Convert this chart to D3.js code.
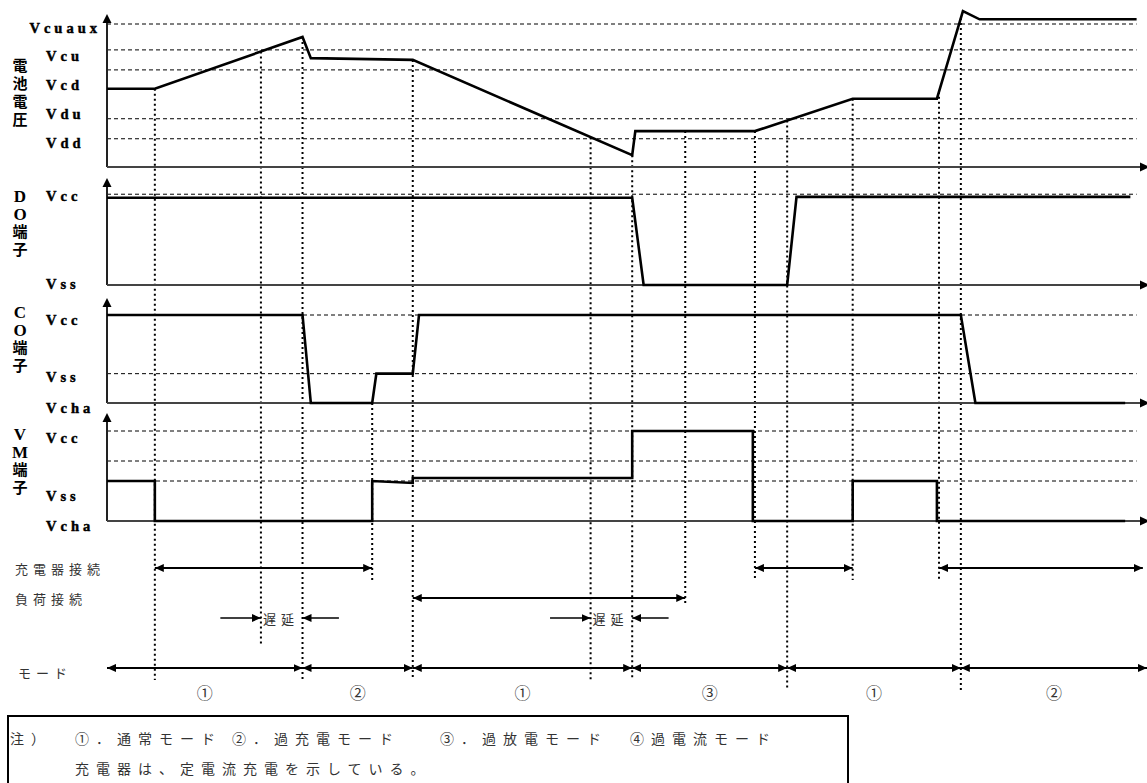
<!DOCTYPE html>
<html>
<head>
<meta charset="utf-8">
<script src="https://cdn.jsdelivr.net/npm/d3@7"></script>
<style>
  html, body { margin: 0; padding: 0; background: #fff; overflow: hidden; }
  svg { display: block; }
</style>
</head>
<body>
<svg id="chart" width="1147" height="783"></svg>
<script>
// ---- time base (arbitrary units, 0..100) ----

// Battery voltage (V)
const batteryT = [0, 4.6, 18.8, 19.6, 29.4, 50.5, 50.8, 62.3, 71.7, 79.8, 82.3, 83.9, 99.0];
const batteryV = [3.33, 3.33, 4.21, 3.85, 3.82, 2.20, 2.61, 2.61, 3.16, 3.16, 4.65, 4.51, 4.51];
const batteryLevelNames = ['Vcuaux', 'Vcu', 'Vcd', 'Vdu', 'Vdd'];
const batteryLevels = [4.43, 3.99, 3.65, 2.82, 2.48];

// DO pin (Vss = 0, Vcc = 1)
const doT = [0, 50.5, 51.6, 65.4, 66.3, 98.4];
const doV = [0.98, 0.98, 0, 0, 0.99, 0.99];
const doLevelNames = ['Vcc', 'Vss'];
const doLevels = [1.02];
const doLabelAt = [1.01, 0.02];

// CO pin (Vcha = 0, Vss = 1, Vcc = 3)
const coT = [0, 18.8, 19.6, 25.5, 25.9, 29.4, 30.0, 82.1, 83.5, 97.9];
const coV = [3, 3, 0, 0, 1, 1, 3, 3, 0, 0];
const coLevelNames = ['Vcc', 'Vss', 'Vcha'];
const coLevels = [3, 1];
const coLabelAt = [2.86, 0.89, -0.14];

// VM pin (Vcha = 0, Vss = 1, Vcc = 2.25)
const vmT = [0, 4.6, 4.6, 25.5, 25.5, 29.4, 29.4, 50.5, 50.5, 62.1, 62.1, 71.7, 71.7, 79.8, 79.8, 97.9];
const vmV = [1, 1, 0, 0, 1, 0.95, 1.075, 1.075, 2.25, 2.25, 0, 0, 1, 1, 0, 0];
const vmLevelNames = ['Vcc', 'Vss', 'Vcha'];
const vmLevels = [2.25, 1.5, 1];
const vmLabelAt = [2.1, 0.63, -0.1];

// Event markers (dotted verticals)
const markerT    = [4.6, 14.8, 18.8, 25.5, 29.4, 46.5, 50.5, 55.6, 62.3, 65.4, 71.7, 80.0, 82.1];
const markerFrom = ['bat', 'bat', 'bat', 'co', 'bat', 'bat', 'bat', 'bat', 'bat', 'bat', 'bat', 'bat', 'bat'];
const markerTo   = ['mode', 'delay', 'mode', 'charger', 'mode', 'mode', 'mode', 'load', 'charger', 'below', 'charger', 'charger', 'below'];

// Connection / delay / mode spans
const chargerSpans = [[4.6, 25.5], [62.3, 71.7], [80.0, 99.6]];
const loadSpans = [[29.4, 55.6]];
const delaySpans = [[14.8, 18.8], [46.5, 50.5]];
const modeBounds = [0, 18.8, 29.4, 50.5, 65.4, 82.1, 100];
const modeLabels = ['①', '②', '①', '③', '①', '②'];

// Notes
const noteHead = '注）';
const noteItems = ['①．通常モード', '②．過充電モード', '③．過放電モード', '④過電流モード'];
const noteLine2 = '充電器は、定電流充電を示している。';

// ---- drawing ----
const svg = d3.select('#chart');
const x = d3.scaleLinear().domain([0, 100]).range([107, 1147]);

const panels = [
  { key: 'bat', top: 14,  base: 167, title: '電池電圧', titleY: 66,
    y: d3.scaleLinear().domain([2.0, 4.6]).range([167, 14]),
    T: batteryT, V: batteryV, levels: batteryLevels },
  { key: 'do',  top: 178, base: 285, title: 'DO端子', titleY: 196,
    y: d3.scaleLinear().domain([0, 1]).range([285, 196]),
    T: doT, V: doV, levels: doLevels, names: doLevelNames, labelAt: doLabelAt },
  { key: 'co',  top: 298, base: 403, title: 'CO端子', titleY: 312,
    y: d3.scaleLinear().domain([0, 3]).range([403, 315]),
    T: coT, V: coV, levels: coLevels, names: coLevelNames, labelAt: coLabelAt },
  { key: 'vm',  top: 413, base: 521, title: 'VM端子', titleY: 434,
    y: d3.scaleLinear().domain([0, 2.25]).range([521, 431]),
    T: vmT, V: vmV, levels: vmLevels, names: vmLevelNames, labelAt: vmLabelAt }
];
const panelBy = Object.fromEntries(panels.map(p => [p.key, p]));

const rowY = { charger: 568, load: 598, delay: 618, mode: 668 };
const markerStop = { charger: 580, load: 605, delay: 645, mode: 680, below: 690 };

const defs = svg.append('defs');
defs.append('marker')
  .attr('id', 'head')
  .attr('viewBox', '0 -5 10 10')
  .attr('refX', 10).attr('refY', 0)
  .attr('markerWidth', 9).attr('markerHeight', 9)
  .attr('markerUnits', 'userSpaceOnUse')
  .attr('orient', 'auto-start-reverse')
  .append('path')
  .attr('d', 'M0,-4.5L10,0L0,4.5Z')
  .attr('fill', '#000');

function valueAt(T, V, t) {
  for (let i = 0; i < T.length - 1; i++) {
    if (t >= T[i] && t <= T[i + 1]) {
      if (T[i + 1] === T[i]) return V[i];
      return V[i] + (V[i + 1] - V[i]) * (t - T[i]) / (T[i + 1] - T[i]);
    }
  }
  return V[V.length - 1];
}

const labelFont = "'Liberation Serif', 'DejaVu Serif', serif";
const jpFont = "'Noto Sans CJK JP', 'Noto Sans', sans-serif";

// reference level dashed lines
panels.forEach(p => {
  svg.append('g').selectAll('line').data(p.levels).join('line')
    .attr('x1', x(0)).attr('x2', x(99))
    .attr('y1', d => p.y(d)).attr('y2', d => p.y(d))
    .attr('stroke', '#000').attr('stroke-width', 1)
    .attr('stroke-dasharray', '4,3');
});

// dotted event markers
svg.append('g').selectAll('line').data(markerT).join('line')
  .attr('x1', d => x(d)).attr('x2', d => x(d))
  .attr('y1', (d, i) => {
    const p = panelBy[markerFrom[i]];
    return p.y(valueAt(p.T, p.V, d));
  })
  .attr('y2', (d, i) => markerStop[markerTo[i]])
  .attr('stroke', '#000').attr('stroke-width', 2)
  .attr('stroke-dasharray', '2,3');

// axes with arrowheads
panels.forEach(p => {
  const g = svg.append('g');
  g.append('line')
    .attr('x1', x(0)).attr('x2', x(0))
    .attr('y1', p.base).attr('y2', p.top + 6)
    .attr('stroke', '#222').attr('stroke-width', 2);
  g.append('path')
    .attr('d', `M${x(0)},${p.top}L${x(0) - 4.5},${p.top + 9}L${x(0) + 4.5},${p.top + 9}Z`)
    .attr('fill', '#000');
  g.append('line')
    .attr('x1', x(0)).attr('x2', x(100))
    .attr('y1', p.base).attr('y2', p.base)
    .attr('stroke', '#444').attr('stroke-width', 2);
  g.append('path')
    .attr('d', `M${x(100) + 3},${p.base}L${x(100) - 7},${p.base - 4.5}L${x(100) - 7},${p.base + 4.5}Z`)
    .attr('fill', '#000');
});

// signal waveforms
panels.forEach(p => {
  const line = d3.line().x(d => x(d[0])).y(d => p.y(d[1]));
  svg.append('path')
    .datum(d3.zip(p.T, p.V))
    .attr('d', line)
    .attr('fill', 'none')
    .attr('stroke', '#000')
    .attr('stroke-width', 2.6)
    .attr('stroke-linejoin', 'miter');
});

// level labels
function styleLabels(g) {
  g.select('.domain').remove();
  g.attr('font-family', labelFont).attr('font-size', 14.5).attr('font-weight', 'bold')
    .attr('text-anchor', 'start');
  g.selectAll('text')
    .attr('x', 0)
    .attr('dy', '0.35em')
    .attr('fill', '#000')
    .attr('stroke', '#000')
    .attr('stroke-width', 0.45)
    .style('letter-spacing', '4px')
    .each(function () {
      const t = d3.select(this);
      if (t.text().length > 4) t.attr('text-anchor', 'end').attr('x', 55);
    });
}
const batLabelScale = d3.scalePoint().domain(batteryLevelNames).range([27, 142]);
svg.append('g').attr('transform', 'translate(46,0)')
  .call(d3.axisLeft(batLabelScale).tickSize(0).tickPadding(0))
  .call(styleLabels);
panels.filter(p => p.names).forEach(p => {
  svg.append('g').attr('transform', 'translate(46,0)')
    .call(d3.axisLeft(p.y).tickValues(p.labelAt)
      .tickFormat((d, i) => p.names[i]).tickSize(0).tickPadding(0))
    .call(styleLabels);
});

// vertical panel titles
panels.forEach(p => {
  svg.append('g').selectAll('text').data(Array.from(p.title)).join('text')
    .attr('x', 20)
    .attr('y', (d, i) => p.titleY + i * 18)
    .attr('text-anchor', 'middle')
    .attr('dominant-baseline', 'central')
    .attr('font-family', labelFont + ", 'Noto Sans CJK JP'")
    .attr('font-size', d => /[A-Z]/.test(d) ? 17 : 15)
    .attr('font-weight', 'bold')
    .attr('fill', '#000')
    .text(d => d);
});

// annotation rows
function rowText(str, px, py, size = 13) {
  svg.append('text')
    .attr('x', px).attr('y', py)
    .attr('dominant-baseline', 'central')
    .attr('font-family', jpFont)
    .attr('font-size', size)
    .attr('fill', '#333')
    .style('letter-spacing', '5px')
    .text(str);
}
rowText('充電器接続', 15, rowY.charger);
rowText('負荷接続', 15, rowY.load);
rowText('モード', 18, rowY.mode + 4);

function spanArrows(spans, yy, width) {
  svg.append('g').selectAll('line').data(spans).join('line')
    .attr('x1', d => x(d[0])).attr('x2', d => x(d[1]))
    .attr('y1', yy).attr('y2', yy)
    .attr('stroke', '#000').attr('stroke-width', width)
    .attr('marker-start', 'url(#head)')
    .attr('marker-end', 'url(#head)');
}
spanArrows(chargerSpans, rowY.charger, 2);
spanArrows(loadSpans, rowY.load, 2);
spanArrows(d3.pairs(modeBounds), rowY.mode, 2);

// delay indicators: →遅延←
delaySpans.forEach(([a, b]) => {
  const g = svg.append('g');
  g.append('line')
    .attr('x1', x(a - 3.9)).attr('x2', x(a))
    .attr('y1', rowY.delay).attr('y2', rowY.delay)
    .attr('stroke', '#000').attr('stroke-width', 1.4)
    .attr('marker-end', 'url(#head)');
  g.append('line')
    .attr('x1', x(b + 3.5)).attr('x2', x(b))
    .attr('y1', rowY.delay).attr('y2', rowY.delay)
    .attr('stroke', '#000').attr('stroke-width', 1.4)
    .attr('marker-end', 'url(#head)');
  rowText('遅延', x(a) + 2, rowY.delay);
});

// mode numbers
svg.append('g').selectAll('text').data(d3.pairs(modeBounds)).join('text')
  .attr('x', d => x((d[0] + d[1]) / 2))
  .attr('y', rowY.mode + 24)
  .attr('text-anchor', 'middle')
  .attr('dominant-baseline', 'central')
  .attr('font-family', jpFont)
  .attr('font-size', 16)
  .attr('fill', '#333')
  .text((d, i) => modeLabels[i]);

// notes box
svg.append('rect')
  .attr('x', 8).attr('y', 716)
  .attr('width', 840).attr('height', 90)
  .attr('fill', 'none').attr('stroke', '#000').attr('stroke-width', 2);

function noteText(str, px, py) {
  svg.append('text')
    .attr('x', px).attr('y', py)
    .attr('dominant-baseline', 'central')
    .attr('font-family', jpFont)
    .attr('font-size', 14)
    .attr('fill', '#333')
    .style('letter-spacing', '7px')
    .text(str);
}
noteText(noteHead, 10, 738);
const noteX = [75, 232, 440, 630];
noteItems.forEach((s, i) => noteText(s, noteX[i], 738));
noteText(noteLine2, 75, 768);
</script>
</body>
</html>
